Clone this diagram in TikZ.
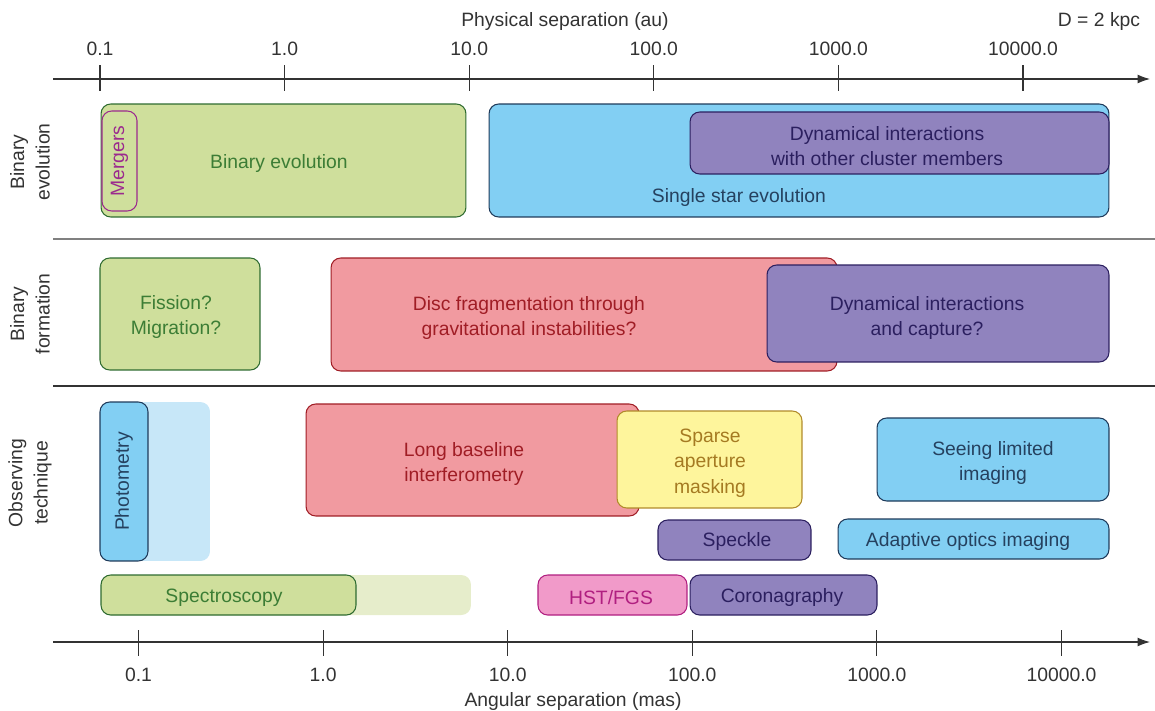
\documentclass[tikz,border=0pt]{standalone}
\usepackage{fontspec}
\setmainfont{Liberation Sans}
\usetikzlibrary{arrows.meta}

\definecolor{grfill}{HTML}{CFDF9C}
\definecolor{grline}{HTML}{2E6B30}
\definecolor{grtext}{HTML}{3C7D35}
\definecolor{blfill}{HTML}{82CFF3}
\definecolor{blline}{HTML}{1E3A5A}
\definecolor{bltext}{HTML}{25415F}
\definecolor{pufill}{HTML}{9083BE}
\definecolor{puline}{HTML}{2B1F5F}
\definecolor{refill}{HTML}{F19AA0}
\definecolor{reline}{HTML}{A01D25}
\definecolor{yefill}{HTML}{FEF59C}
\definecolor{yeline}{HTML}{B08A2A}
\definecolor{yetext}{HTML}{A57A22}
\definecolor{pkfill}{HTML}{F19AC9}
\definecolor{pkline}{HTML}{B01F80}
\definecolor{lbfill}{HTML}{C7E7F8}
\definecolor{lgfill}{HTML}{E6EDCB}
\definecolor{mgline}{HTML}{9B2A8E}
\definecolor{axline}{HTML}{333333}

\tikzset{
  txt/.style={font=\fontsize{11}{14.5}\selectfont, align=center, inner sep=0pt},
  lbl/.style={txt, yshift=-1.1pt},
  box/.style={txt, draw, rounded corners=5.5pt, line width=0.6pt},
  greenbox/.style={box, fill=grfill, draw=grline, text=grtext},
  bluebox/.style={box, fill=blfill, draw=blline, text=bltext},
  purplebox/.style={box, fill=pufill, draw=puline, text=puline},
  redbox/.style={box, fill=refill, draw=reline, text=reline},
  yellowbox/.style={box, fill=yefill, draw=yeline, text=yetext},
  pinkbox/.style={box, fill=pkfill, draw=pkline, text=pkline},
  shade/.style={box, draw=none},
  axis/.style={draw=axline, line width=0.6pt},
  ticklab/.style={lbl, text=axline},
}

\begin{document}
\begin{tikzpicture}[x=0.02cm, y=-0.02cm]
  \useasboundingbox (0,0) rectangle (1155,710);

  % axes
  \coordinate (tl) at (53,79);
  \coordinate (tr) at (1150,79);
  \coordinate (bl) at (53,642);
  \coordinate (br) at (1150,642);
  \draw[axis, -{Latex[length=7pt, width=5pt]}] (tl) -- (tr);
  \draw[axis, -{Latex[length=7pt, width=5pt]}] (bl) -- (br);
  \foreach \lab [count=\i from 0] in {0.1,1.0,10.0,100.0,1000.0,10000.0} {
    \draw[axis] (100+184.6*\i,65) -- (100+184.6*\i,91);
    \node[ticklab] (au\i) at (100+184.6*\i,47) {\lab};
    \draw[axis] (138.5+184.6*\i,630) -- (138.5+184.6*\i,656);
    \node[ticklab] (mas\i) at (138.5+184.6*\i,673) {\lab};
  }
  \node[ticklab] (autitle) at (565,20) {Physical separation (au)};
  \node[ticklab] (dist) at (1099,20) {D = 2 kpc};
  \node[ticklab] (mastitle) at (573,700) {Angular separation (mas)};

  % row separators
  \coordinate (s1l) at (53,239);
  \coordinate (s1r) at (1155,239);
  \coordinate (s2l) at (53,386);
  \coordinate (s2r) at (1155,386);
  \draw[line width=0.6pt, gray] (s1l) -- (s1r);
  \draw[line width=0.6pt, axline] (s2l) -- (s2r);

  % row labels
  \node[txt, text=axline, rotate=90] (rowev) at (30,162) {Binary\\evolution};
  \node[txt, text=axline, rotate=90] (rowform) at (30,314) {Binary\\formation};
  \node[txt, text=axline, rotate=90] (rowobs) at (30,483) {Observing\\technique};

  % binary evolution
  \node[greenbox, minimum width=7.3cm, minimum height=2.26cm] (binev) at (283.5,160.5) {};
  \node[lbl, text=grtext] (binevt) at (279,162) {Binary evolution};
  \node[box, draw=mgline, text=mgline, rotate=90, minimum width=2.0cm, minimum height=0.7cm] (merg) at (119.5,161) {Mergers};
  \node[bluebox, minimum width=12.4cm, minimum height=2.26cm] (single) at (799,160.5) {};
  \node[lbl, text=bltext] (singlet) at (739,196) {Single star evolution};
  \node[purplebox, minimum width=8.38cm, minimum height=1.24cm] (dynclus) at (899.5,143) {};
  \node[lbl, text=puline] (dynclust) at (887,144) {Dynamical interactions\\with other cluster members};

  % binary formation
  \node[greenbox, minimum width=3.2cm, minimum height=2.24cm] (fission) at (180,314) {};
  \node[lbl, text=grtext] (fissiont) at (176,315) {Fission?\\Migration?};
  \node[redbox, minimum width=10.12cm, minimum height=2.26cm] (disc) at (584,314.5) {};
  \node[lbl, text=reline] (disct) at (529,316) {Disc fragmentation through\\gravitational instabilities?};
  \node[purplebox, minimum width=6.84cm, minimum height=1.94cm] (dyncap) at (938,313.5) {};
  \node[lbl, text=puline] (dyncapt) at (927,316) {Dynamical interactions\\and capture?};

  % observing technique
  \node[shade, fill=lbfill, minimum width=2.2cm, minimum height=3.18cm] (photx) at (155,481.5) {};
  \node[bluebox, rotate=90, minimum width=3.18cm, minimum height=0.96cm] (phot) at (124,481.5) {Photometry};
  \node[redbox, minimum width=6.66cm, minimum height=2.24cm] (lbi) at (472.5,460) {};
  \node[lbl, text=reline] (lbit) at (464,462) {Long baseline\\interferometry};
  \node[yellowbox, minimum width=3.7cm, minimum height=1.94cm] (sam) at (709.5,459.5) {};
  \node[lbl, text=yetext] (samt) at (710,461) {Sparse\\aperture\\masking};
  \node[bluebox, minimum width=4.64cm, minimum height=1.66cm] (seeing) at (993,459.5) {};
  \node[lbl, text=bltext] (seeingt) at (993,461) {Seeing limited\\imaging};
  \node[purplebox, minimum width=3.06cm, minimum height=0.8cm] (speckle) at (734.5,540) {};
  \node[lbl, text=puline] (specklet) at (737,540) {Speckle};
  \node[bluebox, minimum width=5.42cm, minimum height=0.8cm] (ao) at (973.5,539) {};
  \node[lbl, text=bltext] (aot) at (968,540) {Adaptive optics imaging};
  \node[shade, fill=lgfill, minimum width=7.4cm, minimum height=0.8cm] (specx) at (286,595) {};
  \node[greenbox, minimum width=5.1cm, minimum height=0.8cm] (spec) at (228.5,595) {};
  \node[lbl, text=grtext] (spect) at (224,596) {Spectroscopy};
  \node[pinkbox, minimum width=2.98cm, minimum height=0.8cm] (hst) at (612.5,595) {};
  \node[lbl, text=pkline] (hstt) at (611,596) {HST/FGS};
  \node[purplebox, minimum width=3.74cm, minimum height=0.8cm] (coro) at (783.5,595) {};
  \node[lbl, text=puline] (corot) at (782,596) {Coronagraphy};
\end{tikzpicture}
\end{document}
